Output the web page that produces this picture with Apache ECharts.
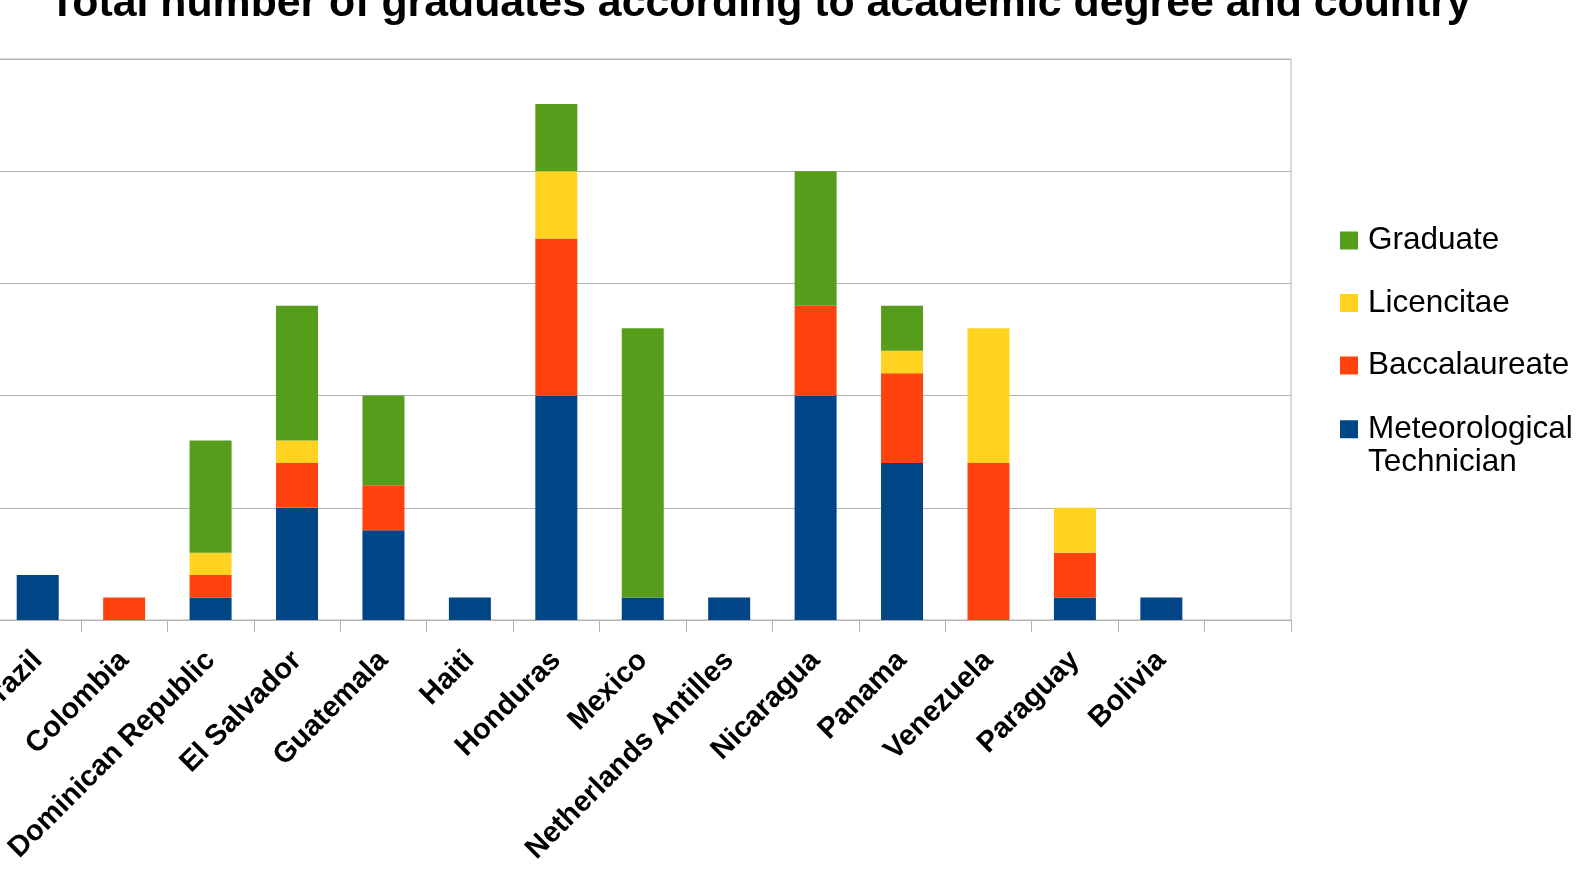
<!DOCTYPE html>
<html>
<head>
<meta charset="utf-8">
<script src="https://cdn.jsdelivr.net/npm/echarts@6/dist/echarts.min.js"></script>
<style>
html,body{margin:0;padding:0;background:#fff;}
#chart{width:1578px;height:877px;}
</style>
</head>
<body>
<div id="chart"></div>
<script>
const categories = ['Brazil','Colombia','Dominican Republic','El Salvador','Guatemala','Haiti','Honduras','Mexico','Netherlands Antilles','Nicaragua','Panama','Venezuela','Paraguay','Bolivia',''];
const meteorologicalTechnician = [2,0,1,5,4,1,10,1,1,10,7,0,1,1,null];
const baccalaureate = [0,1,1,2,2,0,7,0,0,4,4,7,2,0,null];
const licencitae = [0,0,1,1,0,0,3,0,0,0,1,6,2,0,null];
const graduate = [0,0,5,6,4,0,3,12,0,6,2,0,0,0,null];
const yTicks = {min:0, max:25, interval:5};

const FONT = 'Liberation Sans';
const chart = echarts.init(document.getElementById('chart'));
function bar(name, data, color){
  return {name, type:'bar', stack:'total', data, barWidth:42, itemStyle:{color}, emphasis:{disabled:true}};
}
chart.setOption({
  animation:false,
  title:{
    text:'Total number of graduates according to academic degree and country',
    left:755, top:-22, textAlign:'center',
    textStyle:{fontFamily:FONT, fontSize:42.8, fontWeight:'bold', color:'#000'}
  },
  legend:[{
    data:['Graduate','Licencitae','Baccalaureate'],
    orient:'vertical', left:1340, top:224, padding:0,
    itemWidth:18, itemHeight:18, itemGap:29.5, icon:'rect',
    textStyle:{fontFamily:FONT, fontSize:31.5, lineHeight:33, color:'#000', padding:[0,0,0,5]}
  },{
    data:['Meteorological Technician'],
    orient:'vertical', left:1340, top:379, padding:0,
    itemWidth:18, itemHeight:18, icon:'rect',
    formatter: n => '\n' + n.replace(' ', '\n'),
    textStyle:{fontFamily:FONT, fontSize:31.5, lineHeight:33.5, color:'#000', padding:[0,0,0,5]}
  }],
  grid:{left:-5.5, right:287, top:59, bottom:257, show:true, borderColor:'#b3b3b3', borderWidth:1, containLabel:false, outerBoundsMode:'none'},
  xAxis:{
    type:'category', data:categories,
    axisLine:{show:true, lineStyle:{color:'#b3b3b3', width:1}},
    axisTick:{show:true, length:12, interval:0, lineStyle:{color:'#b3b3b3', width:1}},
    axisLabel:{interval:0, rotate:45, margin:36, fontFamily:FONT, fontSize:29, fontWeight:'bold', color:'#000'}
  },
  yAxis:{
    type:'value', min:yTicks.min, max:yTicks.max, interval:yTicks.interval,
    axisLine:{show:false}, axisTick:{show:false},
    splitLine:{lineStyle:{color:'#b3b3b3'}},
    axisLabel:{fontFamily:FONT, fontSize:28, color:'#000'}
  },
  series:[
    bar('Meteorological Technician', meteorologicalTechnician, '#004586'),
    bar('Baccalaureate', baccalaureate, '#ff420e'),
    bar('Licencitae', licencitae, '#ffd320'),
    bar('Graduate', graduate, '#579d1c')
  ]
});
</script>
</body>
</html>
